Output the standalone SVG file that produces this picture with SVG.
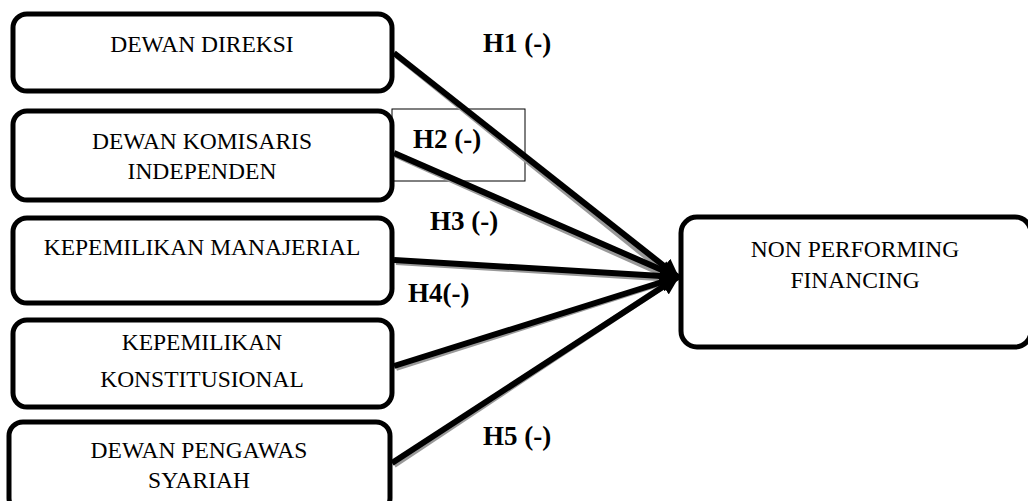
<svg xmlns="http://www.w3.org/2000/svg" width="1028" height="501" viewBox="0 0 1028 501">
<defs>
<style>
.box{fill:#fff;stroke:#000;stroke-width:5}
.t{font-family:"Liberation Serif",serif;font-size:23.5px;text-anchor:middle;fill:#000}
.h{font-family:"Liberation Serif",serif;font-size:27px;font-weight:bold;fill:#000}
.ln{stroke:#000;stroke-width:6;fill:none}
.sh{stroke:#999;stroke-width:6;fill:none}
</style>
<marker id="ah" viewBox="0 0 10 10" refX="9" refY="5" markerWidth="3.2" markerHeight="3.2" orient="auto" markerUnits="strokeWidth">
<path d="M0,0 L10,5 L0,10 z" fill="#000"/>
</marker>
</defs>
<rect width="1028" height="501" fill="#fff"/>
<g id="n1"><rect class="box" x="13" y="14" width="379" height="77" rx="14"/><text class="t" x="202" y="52">DEWAN DIREKSI</text></g>
<g id="n2"><rect class="box" x="13" y="111" width="379" height="89" rx="14"/><text class="t" x="202" y="149">DEWAN KOMISARIS</text><text class="t" x="202" y="179">INDEPENDEN</text></g>
<g id="n3"><rect class="box" x="13" y="218" width="379" height="85" rx="14"/><text class="t" x="202" y="255">KEPEMILIKAN MANAJERIAL</text></g>
<g id="n4"><rect class="box" x="13" y="320" width="379" height="87" rx="14"/><text class="t" x="202" y="350">KEPEMILIKAN</text><text class="t" x="202" y="387">KONSTITUSIONAL</text></g>
<g id="n5"><rect class="box" x="9" y="422" width="381" height="90" rx="14"/><text class="t" x="199" y="458">DEWAN PENGAWAS</text><text class="t" x="199" y="488">SYARIAH</text></g>
<g id="n6"><rect class="box" x="681" y="217" width="350" height="130" rx="16"/><text class="t" x="855" y="257">NON PERFORMING</text><text class="t" x="855" y="288">FINANCING</text></g>
<g id="labelbox"><rect x="392" y="109" width="133" height="72" fill="none" stroke="#000" stroke-width="1"/></g>
<g id="connectors">
<g transform="translate(2,2)">
<line class="sh" x1="394" y1="53" x2="672" y2="277"/>
<line class="sh" x1="394" y1="153" x2="672" y2="277"/>
<line class="sh" x1="394" y1="260" x2="672" y2="277"/>
<line class="sh" x1="394" y1="366" x2="672" y2="277"/>
<line class="sh" x1="392" y1="463" x2="672" y2="277"/>
</g>
<line class="ln" x1="394" y1="53" x2="678" y2="277" marker-end="url(#ah)"/>
<line class="ln" x1="394" y1="153" x2="678" y2="277" marker-end="url(#ah)"/>
<line class="ln" x1="394" y1="260" x2="678" y2="277" marker-end="url(#ah)"/>
<line class="ln" x1="394" y1="366" x2="678" y2="277" marker-end="url(#ah)"/>
<line class="ln" x1="392" y1="463" x2="678" y2="277" marker-end="url(#ah)"/>
</g>
<g id="labels">
<text class="h" x="483" y="52">H1 (-)</text>
<text class="h" x="413" y="148">H2 (-)</text>
<text class="h" x="430" y="230">H3 (-)</text>
<text class="h" x="408" y="302">H4(-)</text>
<text class="h" x="483" y="445">H5 (-)</text>
</g>
</svg>
